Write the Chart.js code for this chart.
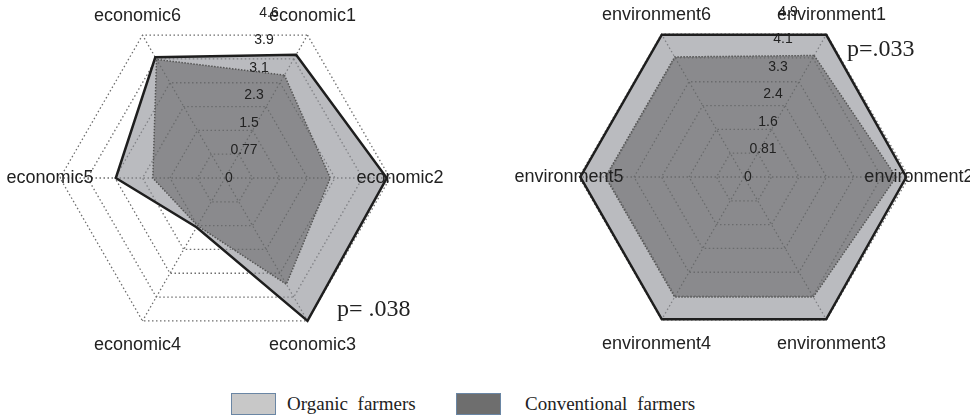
<!DOCTYPE html>
<html>
<head>
<meta charset="utf-8">
<script src="https://cdn.jsdelivr.net/npm/chart.js@4/dist/chart.umd.min.js"></script>
<style>
  body { margin: 0; background: #fff; width: 970px; height: 417px; overflow: hidden; position: relative; }
  canvas { position: absolute; top: 0; }
  #econ { left: 0; }
  #env { left: 500px; }
  .pval { position: absolute; font-family: "Liberation Serif", "Times New Roman", serif; font-size: 24px; color: #222; line-height: 1; }
  .swatch { position: absolute; top: 393px; width: 45px; height: 22px; box-sizing: border-box; border: 1.5px solid #6a86a4; }
  .ltext { position: absolute; top: 393px; font-family: "Liberation Serif", "Times New Roman", serif; font-size: 19px; color: #222; word-spacing: 5px; line-height: 22px; }
</style>
</head>
<body>
<canvas id="econ" width="460" height="370"></canvas>
<canvas id="env" width="470" height="370"></canvas>
<div class="pval" style="left:337px; top:296px;">p= .038</div>
<div class="pval" style="left:847px; top:36px;">p=.033</div>
<div class="swatch" style="left:231px; background:#c8c8c8;"></div>
<div class="ltext" style="left:287px;">Organic farmers</div>
<div class="swatch" style="left:456px; background:#6e6e6e;"></div>
<div class="ltext" style="left:525px;">Conventional farmers</div>
<script>
const econLabels = ['economic1', 'economic2', 'economic3', 'economic4', 'economic5', 'economic6'];
const econOrganic = [4.0, 4.55, 4.64, 1.6, 3.07, 3.92];
const econConventional = [3.34, 2.96, 3.45, 1.55, 2.03, 3.85];
const econTicks = ['0', '0.77', '1.5', '2.3', '3.1', '3.9', '4.6'];
const econMax = 4.64;

const envLabels = ['environment1', 'environment2', 'environment3', 'environment4', 'environment5', 'environment6'];
const envOrganic = [4.86, 4.8, 4.86, 4.86, 4.84, 4.86];
const envConventional = [4.15, 4.5, 4.1, 4.1, 4.1, 4.1];
const envTicks = ['0', '0.81', '1.6', '2.4', '3.3', '4.1', '4.9'];
const envMax = 4.88;

const FONT = '"Liberation Sans", Arial, sans-serif';

// axis names sit on top of the grid, tick values run straight up from the centre
function textPlugin(tickLabels) {
  return {
    id: 'radarText',
    afterDatasetsDraw(chart) {
      const scale = chart.scales.r;
      const ctx = chart.ctx;
      const cx = scale.xCenter, cy = scale.yCenter;
      ctx.save();
      ctx.fillStyle = '#222';
      ctx.textAlign = 'center';
      ctx.textBaseline = 'middle';
      ctx.font = '18px ' + FONT;
      chart.data.labels.forEach((lbl, i) => {
        const p = scale.getPointPosition(i, scale.drawingArea);
        const fy = p.y < cy ? 1.13 : 1.17;
        ctx.fillText(lbl, cx + (p.x - cx) * 1.06, cy + (p.y - cy) * fy);
      });
      ctx.font = '14px ' + FONT;
      tickLabels.forEach((t, i) => {
        const d = scale.getDistanceFromCenterForValue(scale.ticks[i].value);
        ctx.fillText(t, cx + (i === 0 ? 4 : 14 + 5 * i), cy - d);
      });
      ctx.restore();
    },
  };
}

function makeRadar(id, labels, organic, conventional, max, tickLabels, padding) {
  return new Chart(document.getElementById(id).getContext('2d'), {
    type: 'radar',
    data: {
      labels,
      datasets: [
        {
          label: 'Organic farmers',
          data: organic,
          backgroundColor: 'rgba(140,141,148,0.6)',
          borderColor: '#1e1e1e',
          borderWidth: 2.5,
          borderJoinStyle: 'miter',
          pointRadius: 0,
          order: 2,
        },
        {
          label: 'Conventional farmers',
          data: conventional,
          backgroundColor: 'rgba(80,80,80,0.45)',
          borderColor: '#555',
          borderWidth: 1.5,
          borderDash: [1.5, 1.5],
          pointRadius: 0,
          order: 1,
        },
      ],
    },
    options: {
      responsive: false,
      animation: false,
      layout: { padding },
      plugins: { legend: { display: false }, tooltip: { enabled: false } },
      scales: {
        r: {
          min: 0,
          max,
          startAngle: 30,
          afterBuildTicks: (s) => { s.ticks = tickLabels.map((t, i) => ({ value: i * max / 6 })); },
          ticks: { display: false },
          pointLabels: { display: false },
          grid: { color: '#6e6e6e', lineWidth: 1.3 },
          border: { dash: [1.5, 2.5] },
          angleLines: { color: '#6e6e6e', lineWidth: 1.3, borderDash: [1.5, 2.5] },
        },
      },
    },
    plugins: [textPlugin(tickLabels)],
  });
}

makeRadar('econ', econLabels, econOrganic, econConventional, econMax, econTicks,
  { left: 60, right: 70, top: 13, bottom: 27 });
makeRadar('env', envLabels, envOrganic, envConventional, envMax, envTicks,
  { left: 79, right: 61, top: 12, bottom: 28 });
</script>
</body>
</html>
